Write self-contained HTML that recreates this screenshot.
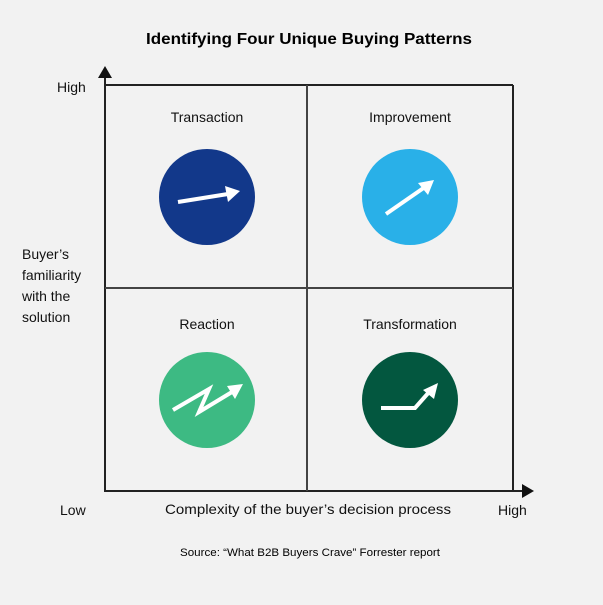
<!DOCTYPE html>
<html><head><style>
body{margin:0;background:#f2f2f2;width:603px;height:600px;overflow:hidden;font-family:"Liberation Sans",sans-serif;color:#111}
</style></head><body>
<svg width="603" height="600" xmlns="http://www.w3.org/2000/svg" font-family="Liberation Sans, sans-serif">
<rect width="603" height="600" fill="#f2f2f2"/>
<text x="146" y="44" font-size="16" font-weight="bold" textLength="326" lengthAdjust="spacingAndGlyphs">Identifying Four Unique Buying Patterns</text>
<g stroke="#222" stroke-width="2" fill="none">
<line x1="105" y1="76" x2="105" y2="491"/>
<line x1="104" y1="491" x2="524" y2="491"/>
<line x1="105" y1="85" x2="513" y2="85"/>
<line x1="513" y1="85" x2="513" y2="491"/>
</g>
<g stroke="#444" stroke-width="2"><line x1="307" y1="85" x2="307" y2="491"/><line x1="105" y1="288" x2="513" y2="288"/></g>
<polygon points="105,66 98,78 112,78" fill="#111"/>
<polygon points="534,491 522,484 522,498" fill="#111"/>
<g font-size="14" fill="#111">
<text x="57" y="92">High</text>
<text x="60" y="515">Low</text>
<text x="498" y="515">High</text>
<text x="165" y="514" textLength="286" lengthAdjust="spacingAndGlyphs">Complexity of the buyer’s decision process</text>
<text x="22" y="259">Buyer’s</text>
<text x="22" y="280">familiarity</text>
<text x="22" y="301">with the</text>
<text x="22" y="322">solution</text>
<text x="207" y="122" text-anchor="middle">Transaction</text>
<text x="410" y="122" text-anchor="middle">Improvement</text>
<text x="207" y="329" text-anchor="middle">Reaction</text>
<text x="410" y="329" text-anchor="middle">Transformation</text>
</g>
<text x="180" y="556" font-size="11" textLength="260" lengthAdjust="spacingAndGlyphs">Source: “What B2B Buyers Crave” Forrester report</text>
<circle cx="207" cy="197" r="48" fill="#12388a"/>
<circle cx="410" cy="197" r="48" fill="#29b0e8"/>
<circle cx="207" cy="400" r="48" fill="#3dba83"/>
<circle cx="410" cy="400" r="48" fill="#03573f"/>
<g stroke="#fff" stroke-width="4" fill="none" stroke-linejoin="miter">
<line x1="178" y1="202" x2="228" y2="194"/>
<line x1="386" y1="214" x2="425" y2="187"/>
<polyline points="173,410 209,389 199,412 232,392"/>
<polyline points="381,408 415,408 430,391"/>
</g>
<g fill="#fff">
<polygon points="240,191 225,186 228,202"/>
<polygon points="434,180 418,183 428,195"/>
<polygon points="243,384 227,386 235,399"/>
<polygon points="438,383 423,390 434,399"/>
</g>
</svg>
</body></html>
